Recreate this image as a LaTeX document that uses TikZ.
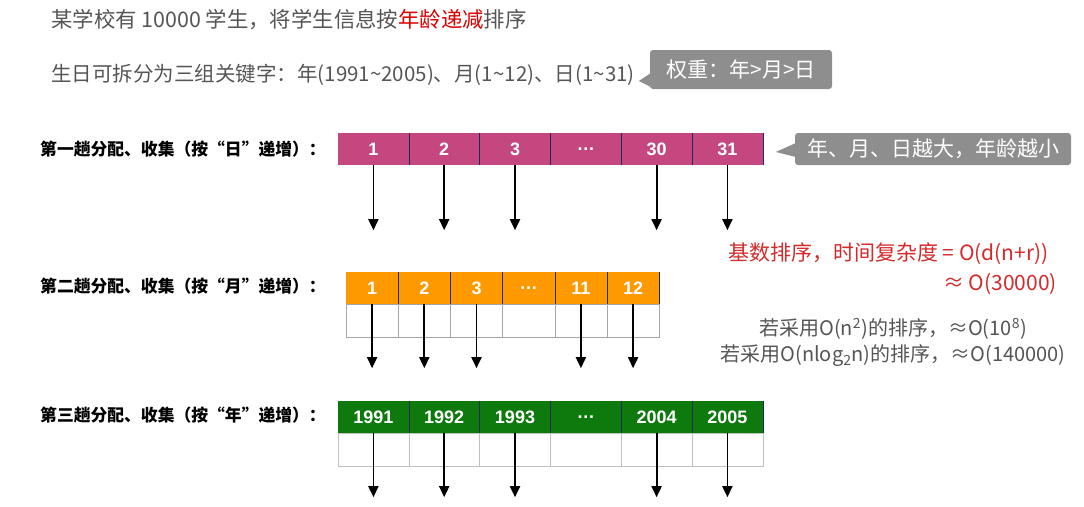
\documentclass[tikz,border=0pt]{standalone}
\usepackage{fontspec}
\setmainfont{Noto Sans CJK SC}
\newfontfamily\numfont{Liberation Sans}
\usetikzlibrary{positioning, arrows.meta, calc}
\usepackage{xcolor}
\definecolor{DayPink}{HTML}{C4477F}
\definecolor{MonthOrange}{HTML}{FF9900}
\definecolor{YearGreen}{HTML}{0E7A0E}
\definecolor{TipGray}{HTML}{8E8E8E}
\definecolor{NoteGray}{HTML}{555555}
\definecolor{NoteRed}{HTML}{D42A2A}
\definecolor{DivNavy}{HTML}{1F2A5A}
\tikzset{
  keycell/.style={minimum width=70.8pt, minimum height=32pt, inner sep=0pt, text=white,
    font=\numfont\bfseries\fontsize{18}{18}\selectfont},
  bincell/.style={minimum width=70.8pt, minimum height=33pt, inner sep=0pt},
  divline/.style={DivNavy, line width=1pt},
  passlabel/.style={anchor=east, inner sep=0pt, font=\bfseries\fontsize{16.8}{17}\selectfont},
  tipbox/.style={fill=TipGray, rounded corners=3pt, text=white, inner sep=0pt,
    font=\fontsize{21}{21}\selectfont},
  note/.style={inner sep=0pt, text=NoteGray, font=\fontsize{20.5}{20.5}\selectfont},
  distarrow/.style={-{Triangle[width=10pt,length=11pt]}, line width=1.8pt},
}

\begin{document}
\begin{tikzpicture}[x=1pt, y=-1pt]
  \useasboundingbox (0,0) rectangle (1084,506);

  % headline
  \node[note, anchor=west, font=\fontsize{21.4}{21.4}\selectfont] (title) at (51,20) {某学校有 10000 学生，将学生信息按\textcolor{red!85!black}{年龄递减}排序};
  \node[note, anchor=west] (keys) at (51,75) {生日可拆分为三组关键字：年(1991\textasciitilde2005)、月(1\textasciitilde12)、日(1\textasciitilde31)};
  \node[tipbox, minimum width=182pt, minimum height=39pt] (weight) at (741,69.5) {权重：年>月>日};
  \fill[TipGray] ($(weight.west)+(1,3.5)$) -- ($(weight.west)+(-11,11.5)$) -- ($(weight.west)+(1,17.5)$) -- cycle;

  % pass 1: day
  \node[passlabel] (pass1) at (326,149) {第一趟分配、收集（按“日”递增）：};
  \foreach \lab [count=\i] in {1,2,3,\ldots,30,31} {
    \pgfmathsetmacro{\x}{338+70.8*(\i-0.5)}
    \node[keycell, fill=DayPink] (d\i) at (\x,149) {\lab};
  }
  \foreach \i in {1,...,6} {
    \draw[divline] (d\i.north east) -- (d\i.south east);
    \ifnum\i=4\else
      \coordinate (de\i) at ($(d\i.south)+(0,65)$);
      \draw[distarrow] (d\i.south) -- (de\i);
    \fi
  }
  \node[tipbox, minimum width=276pt, minimum height=32pt] (rule) at (933,149) {年、月、日越大，年龄越小};
  \fill[TipGray] ($(rule.west)+(1,-6)$) -- ($(rule.west)+(-19,3)$) -- ($(rule.west)+(1,8)$) -- cycle;

  % pass 2: month
  \node[passlabel] (pass2) at (326,286) {第二趟分配、收集（按“月”递增）：};
  \foreach \lab [count=\i] in {1,2,3,\ldots,11,12} {
    \pgfmathsetmacro{\x}{346+52.2*(\i-0.5)}
    \node[keycell, minimum width=52.2pt, fill=MonthOrange] (m\i) at (\x,288) {\lab};
    \node[bincell, minimum width=52.2pt, draw=gray!70, densely dotted, thin] (mb\i) at (\x,320.5) {};
  }
  \draw[gray!70] (mb1.north west) rectangle (mb6.south east);
  \foreach \i in {1,...,6} {
    \draw[divline] (m\i.north east) -- (m\i.south east);
    \ifnum\i=4\else
      \coordinate (me\i) at ($(m\i.south)+(0,64)$);
      \draw[distarrow] (m\i.south) -- (me\i);
    \fi
  }

  % pass 3: year
  \node[passlabel] (pass3) at (326,415) {第三趟分配、收集（按“年”递增）：};
  \foreach \lab [count=\i] in {1991,1992,1993,\ldots,2004,2005} {
    \pgfmathsetmacro{\x}{338+70.8*(\i-0.5)}
    \node[keycell, fill=YearGreen] (y\i) at (\x,417) {\lab};
    \node[bincell, draw=gray!50] (yb\i) at (\x,449.5) {};
  }
  \foreach \i in {1,...,6} {
    \draw[divline] (y\i.north east) -- (y\i.south east);
    \ifnum\i=4\else
      \coordinate (ye\i) at ($(y\i.south)+(0,64)$);
      \draw[distarrow] (y\i.south) -- (ye\i);
    \fi
  }

  % complexity notes
  \node[note, text=NoteRed, anchor=east, font=\fontsize{21}{21}\selectfont] (cost) at (1049,254) {基数排序，时间复杂度 = O(d(n+r))};
  \node[note, text=NoteRed, anchor=east, font=\fontsize{21}{21}\selectfont] (approx) at (1057,284) {≈ O(30000)};
  \node[note, font=\fontsize{20}{20}\selectfont] (sq) at (893,329) {若采用O(n\textsuperscript{2})的排序，≈O(10\textsuperscript{8})};
  \node[note, font=\fontsize{20}{20}\selectfont] (nlog) at (893,356) {若采用O(nlog\textsubscript{2}n)的排序，≈O(140000)};
\end{tikzpicture}
\end{document}
